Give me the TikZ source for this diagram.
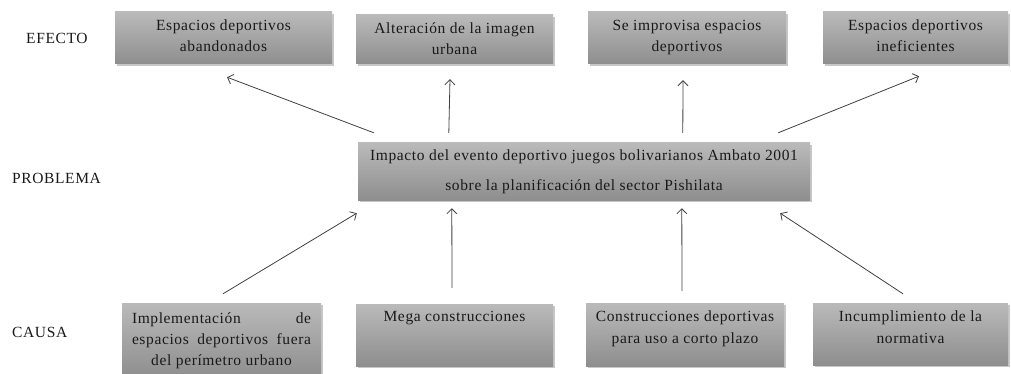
\documentclass[tikz,border=0pt]{standalone}
\usepackage{fontspec}
\setmainfont[LetterSpace=4]{Liberation Serif}
\usetikzlibrary{arrows.meta,shadows,calc}
\definecolor{boxtop}{RGB}{186,186,186}
\definecolor{boxbot}{RGB}{142,142,142}
\definecolor{txt}{RGB}{25,25,25}
\newcommand\bt[5]{\begin{minipage}[c][#2pt][t]{#1pt}\fontsize{15.5}{#4}\selectfont\centering\rule{0pt}{#3pt}#5\end{minipage}}
\tikzset{
  bx/.style={inner sep=0pt, top color=boxtop, bottom color=boxbot, draw=none, text=txt,
    drop shadow={shadow xshift=1.5pt, shadow yshift=-2pt, opacity=0.22, fill=black}},
  lvl/.style={inner sep=0pt, anchor=west, text=txt, font=\fontsize{15.5}{18}\selectfont},
  arr/.style={draw=black!75, line width=0.8pt, -{Straight Barb[length=5pt,width=10pt]}}
}
\begin{document}
\begin{tikzpicture}[x=1pt,y=1pt]
\useasboundingbox (0,0) rectangle (1011,-374);
% level labels
\node[lvl] (lef) at (26,-38) {EFECTO};
\node[lvl] (lpr) at (12,-178) {PROBLEMA};
\node[lvl] (lca) at (12,-332) {CAUSA};
% effects
\node[bx] (e1) at (223.5,-38) {\bt{217}{52}{18.5}{21}{Espacios deportivos\\abandonados}};
\node[bx] (e2) at (454.5,-39.5) {\bt{197}{49}{18.5}{21}{Alteración de la imagen\\urbana}};
\node[bx] (e3) at (687,-38) {\bt{198}{52}{18.5}{21}{Se improvisa espacios\\deportivos}};
\node[bx] (e4) at (915.5,-38) {\bt{185}{52}{18.5}{21}{Espacios deportivos\\ineficientes}};
% problem
\node[bx] (mid) at (584,-171.5) {\bt{452}{57}{17.5}{30}{Impacto del evento deportivo juegos bolivarianos Ambato 2001\\sobre la planificación del sector Pishilata}};
% causes
\node[bx, inner xsep=10pt] (c1) at (221.5,-340) {\bt{179}{74}{20.5}{21}{Implementación\hfill de\\espacios\hfill deportivos\hfill fuera\\del perímetro urbano\hfill}};
\node[bx] (c2) at (454.5,-335) {\bt{197}{62}{17}{22}{Mega construcciones}};
\node[bx] (c3) at (685,-334.5) {\bt{198}{63}{18.5}{22}{Construcciones deportivas\\para uso a corto plazo}};
\node[bx] (c4) at (910.5,-334) {\bt{195}{62}{18.5}{22}{Incumplimiento de la\\normativa}};
% arrows problem -> effects
\draw[arr] ($(mid.north west)+(16,10)$) -- ($(e1.south)+(3.5,-13)$);
\draw[arr] ($(mid.north west)+(91,10)$) -- ($(e2.south)+(-4.5,-15)$);
\draw[arr] ($(mid.north west)+(325,10)$) -- ($(e3.south)+(-4,-16)$);
\draw[arr] ($(mid.north east)+(-32,10)$) -- ($(e4.south)+(3.5,-12)$);
% arrows causes -> problem
\draw[arr] ($(c1.north)+(1.5,9)$) -- ($(mid.south west)+(-1,-13)$);
\draw[arr] ($(c2.north)+(-2.5,16)$) -- ($(mid.south west)+(94,-8)$);
\draw[arr] ($(c3.north)+(-3,12)$) -- ($(mid.south west)+(324,-8)$);
\draw[arr] ($(c4.north)+(-7.5,9)$) -- ($(mid.south east)+(-30,-13)$);
\end{tikzpicture}
\end{document}
